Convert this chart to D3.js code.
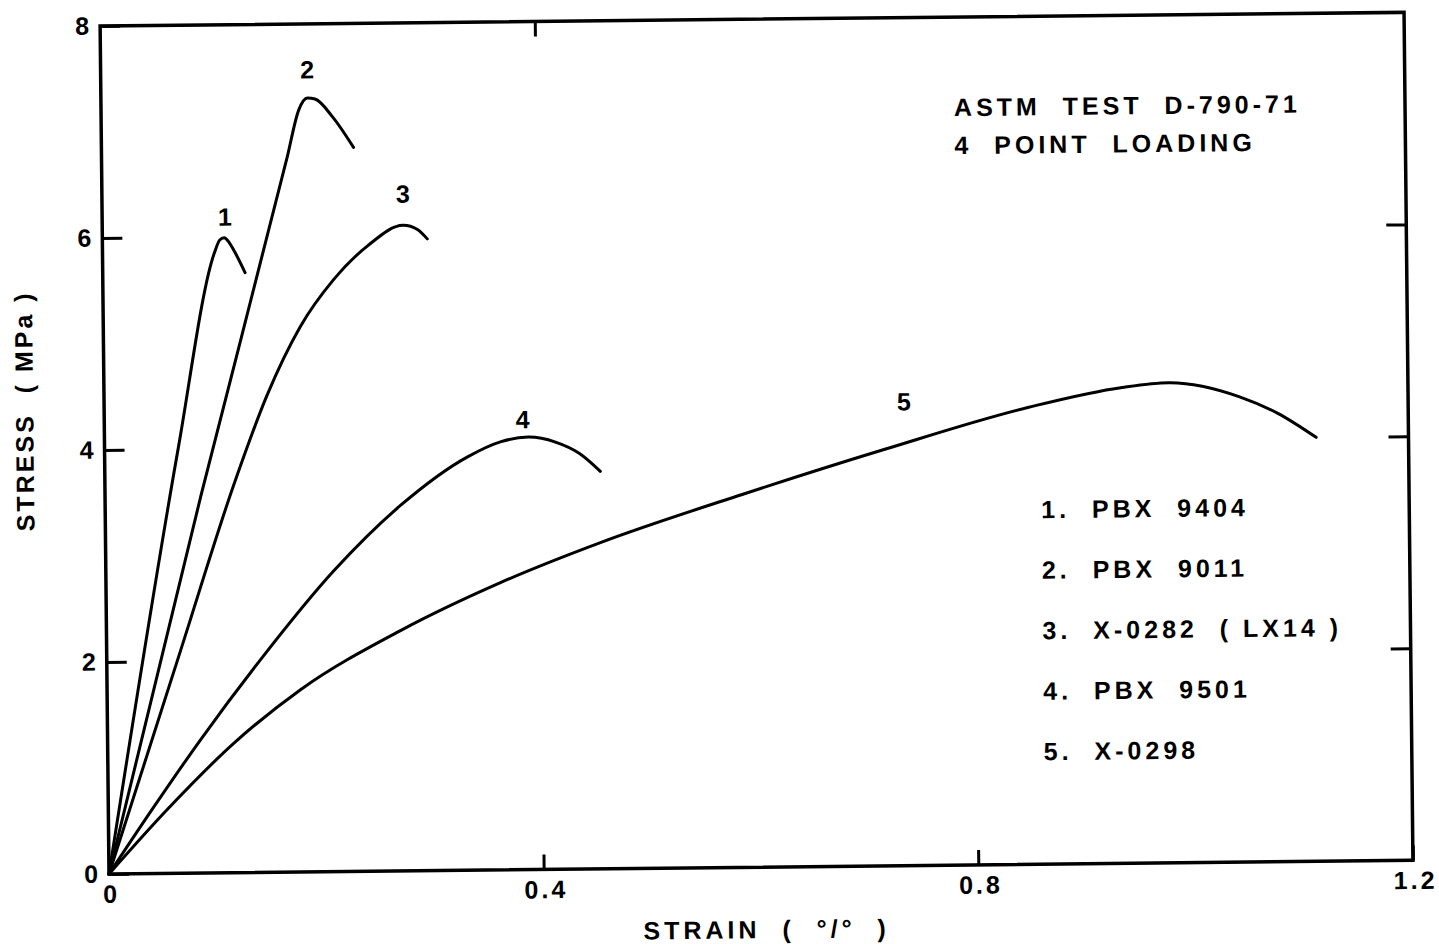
<!DOCTYPE html>
<html>
<head>
<meta charset="utf-8">
<script src="https://cdn.jsdelivr.net/npm/d3@7"></script>
<style>
body { margin: 0; background: #fff; }
text { font-family: "Liberation Sans", Arial, sans-serif; font-weight: bold; fill: #000; white-space: pre; }
</style>
</head>
<body>
<div id="chart"></div>
<script>
// curves (strain in %, stress in MPa)
var strain1 = [0, 0.068, 0.103, 0.108, 0.112, 0.117, 0.122, 0.131];
var stress1 = [0, 4.02, 5.85, 5.97, 5.99, 5.94, 5.85, 5.66];

var strain2 = [0, 0.088, 0.171, 0.182, 0.190, 0.197, 0.213, 0.232];
var stress2 = [0, 3.55, 6.75, 7.19, 7.30, 7.29, 7.12, 6.83];

var strain3 = [0, 0.068, 0.120, 0.150, 0.181, 0.212, 0.244, 0.277, 0.290, 0.299];
var stress3 = [0, 2.1, 3.70, 4.50, 5.14, 5.58, 5.90, 6.09, 6.05, 5.96];

var strain4 = [0, 0.04, 0.085, 0.141, 0.21, 0.272, 0.334, 0.365, 0.39, 0.415, 0.437, 0.456];
var stress4 = [0, 0.6, 1.25, 2.0, 2.84, 3.45, 3.90, 4.04, 4.08, 4.03, 3.92, 3.75];

var strain5 = [0, 0.054, 0.116, 0.178, 0.271, 0.363, 0.456, 0.587, 0.718, 0.850, 0.937, 0.980, 1.045, 1.080, 1.115];
var stress5 = [0, 0.60, 1.22, 1.72, 2.27, 2.71, 3.08, 3.52, 3.93, 4.31, 4.49, 4.53, 4.39, 4.23, 4.00];

var curveIds = ["1", "2", "3", "4", "5"];
var labelStrain = [0.113, 0.190, 0.277, 0.385, 0.736];
var labelStress = [6.18, 7.56, 6.38, 4.24, 4.37];

var xTicks = [0, 0.4, 0.8, 1.2];
var yTicks = [0, 2, 4, 6, 8];

var legendLabels = ["1.  PBX  9404", "2.  PBX  9011", "3.  X-0282  ( LX14 )", "4.  PBX  9501", "5.  X-0298"];
var titleLines = ["ASTM  TEST  D-790-71", "4  POINT  LOADING"];

var svg = d3.select("#chart").append("svg")
    .attr("width", 1439)
    .attr("height", 944);

// the scan is slightly tilted
var g = svg.append("g").attr("transform", "rotate(-0.6, 109, 874)");

var x = d3.scaleLinear().domain([0, 1.2]).range([109, 1413]);
var y = d3.scaleLinear().domain([0, 8]).range([874, 26]);

var allStrain = [strain1, strain2, strain3, strain4, strain5];
var allStress = [stress1, stress2, stress3, stress4, stress5];
var curves = curveIds.map(function (id, i) {
    return {
        id: id,
        points: allStrain[i].map(function (s, j) { return [s, allStress[i][j]]; }),
        lx: labelStrain[i],
        ly: labelStress[i]
    };
});

var tickFmt = function (d) { return d === 0 ? "0" : d3.format(".1f")(d); };

var xAxis = g.append("g")
    .attr("transform", "translate(0," + y(0) + ")")
    .call(d3.axisBottom(x).tickValues(xTicks).tickSize(-15).tickPadding(11).tickFormat(tickFmt));

var yAxis = g.append("g")
    .attr("transform", "translate(" + x(0) + ",0)")
    .call(d3.axisLeft(y).tickValues(yTicks).tickSize(-20).tickPadding(11).tickFormat(d3.format("d")));

g.append("g")
    .attr("transform", "translate(" + x(1.2) + ",0)")
    .call(d3.axisRight(y).tickValues([2, 4, 6]).tickSize(-20).tickFormat(""));

g.append("g")
    .attr("transform", "translate(0," + y(8) + ")")
    .call(d3.axisTop(x).tickValues([0.4]).tickSize(-15).tickFormat(""));

g.selectAll(".domain").remove();
g.selectAll(".tick line").attr("stroke", "#000").attr("stroke-width", 3);
g.selectAll(".tick text")
    .style("font-family", "'Liberation Sans', Arial, sans-serif")
    .style("font-weight", "bold")
    .style("font-size", "25px")
    .attr("fill", "#000");
xAxis.selectAll(".tick text").attr("letter-spacing", 3).attr("dx", 2);

g.append("rect")
    .attr("x", x(0))
    .attr("y", y(8))
    .attr("width", x(1.2) - x(0))
    .attr("height", y(0) - y(8))
    .attr("fill", "none")
    .attr("stroke", "#000")
    .attr("stroke-width", 3.5);

var line = d3.line()
    .x(function (d) { return x(d[0]); })
    .y(function (d) { return y(d[1]); })
    .curve(d3.curveMonotoneX);

g.selectAll(".curve")
    .data(curves)
    .enter()
    .append("path")
    .attr("class", "curve")
    .attr("d", function (d) { return line(d.points); })
    .attr("fill", "none")
    .attr("stroke", "#000")
    .attr("stroke-width", 3)
    .attr("stroke-linecap", "round");

g.selectAll(".clabel")
    .data(curves)
    .enter()
    .append("text")
    .attr("class", "clabel")
    .attr("x", function (d) { return x(d.lx); })
    .attr("y", function (d) { return y(d.ly) + 8; })
    .attr("text-anchor", "middle")
    .style("font-size", "25px")
    .text(function (d) { return d.id; });

g.selectAll(".title")
    .data(titleLines)
    .enter()
    .append("text")
    .attr("x", 962)
    .attr("y", function (d, i) { return 125 + i * 38; })
    .attr("letter-spacing", 4)
    .style("font-size", "25px")
    .text(function (d) { return d; });

g.selectAll(".legend")
    .data(legendLabels)
    .enter()
    .append("text")
    .attr("x", 1045)
    .attr("y", function (d, i) { return 528 + i * 60.5; })
    .attr("letter-spacing", 4)
    .style("font-size", "25px")
    .text(function (d) { return d; });

g.append("text")
    .attr("x", 766)
    .attr("y", 945)
    .attr("text-anchor", "middle")
    .attr("letter-spacing", 4)
    .style("font-size", "25px")
    .text("STRAIN  (  °/°  )");

g.append("text")
    .attr("transform", "translate(38,410) rotate(-90)")
    .attr("text-anchor", "middle")
    .attr("letter-spacing", 3)
    .style("font-size", "25px")
    .text("STRESS  ( MPa )");
</script>
</body>
</html>
